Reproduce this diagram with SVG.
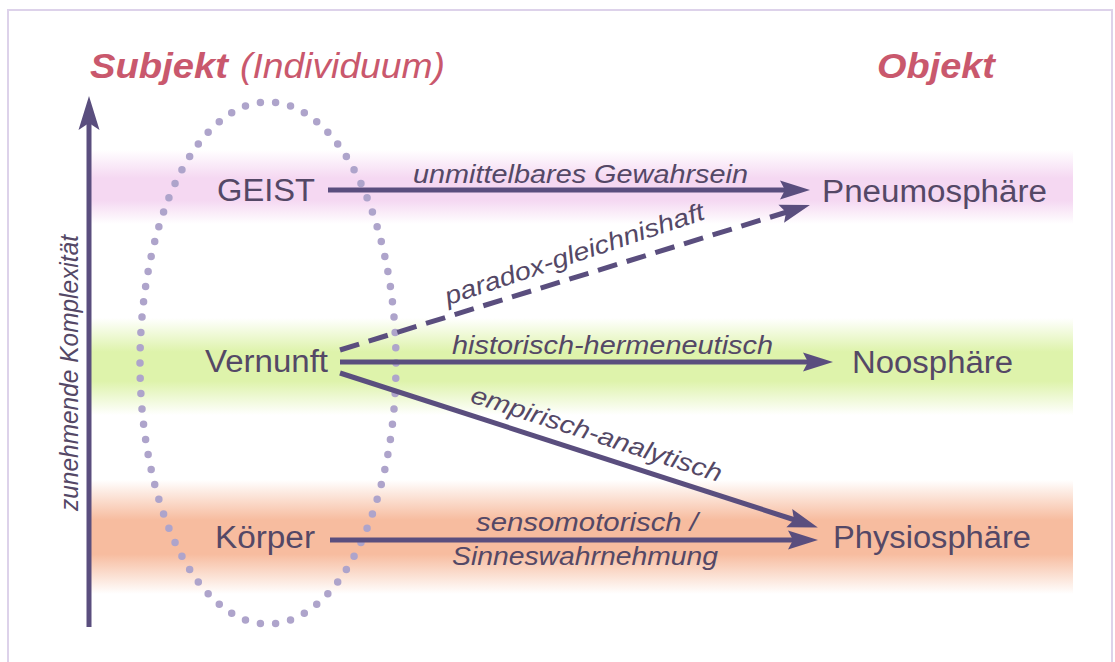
<svg xmlns="http://www.w3.org/2000/svg" width="1115" height="662" viewBox="0 0 1115 662">
<style>
.node{font-family:"Liberation Sans",Arial,sans-serif;font-size:31px;fill:#544866}
.lbl{font-family:"Liberation Sans",Arial,sans-serif;font-size:25px;font-style:italic;fill:#544866}
.title{font-family:"Liberation Sans",Arial,sans-serif;font-size:35px;font-style:italic;fill:#c9586d}
.conn{stroke:#5a4e7e;stroke-width:5;fill:none;marker-end:url(#ah)}
</style>
<defs>
<marker id="ah" markerUnits="userSpaceOnUse" markerWidth="60" markerHeight="40" refX="0" refY="0" orient="auto" overflow="visible">
<path d="M24,0 L-6,-9.5 L-1,0 L-6,9.5 Z" fill="#5a4e7e"/>
</marker>
<marker id="ahv" markerUnits="userSpaceOnUse" markerWidth="60" markerHeight="40" refX="0" refY="0" orient="auto" overflow="visible">
<path d="M26,0 L-8,-10.5 L-1,0 L-8,10.5 Z" fill="#5a4e7e"/>
</marker>
<linearGradient id="gPink" x1="0" y1="0" x2="0" y2="1">
<stop offset="0" stop-color="#f5d8f2" stop-opacity="0"/>
<stop offset="0.38" stop-color="#f5d8f2" stop-opacity="1"/>
<stop offset="0.68" stop-color="#f5d8f2" stop-opacity="1"/>
<stop offset="1" stop-color="#f5d8f2" stop-opacity="0"/>
</linearGradient>
<linearGradient id="gGreen" x1="0" y1="0" x2="0" y2="1">
<stop offset="0" stop-color="#def3ab" stop-opacity="0"/>
<stop offset="0.35" stop-color="#def3ab" stop-opacity="1"/>
<stop offset="0.65" stop-color="#def3ab" stop-opacity="1"/>
<stop offset="1" stop-color="#def3ab" stop-opacity="0"/>
</linearGradient>
<linearGradient id="gOrange" x1="0" y1="0" x2="0" y2="1">
<stop offset="0" stop-color="#f7bc9f" stop-opacity="0"/>
<stop offset="0.35" stop-color="#f7bc9f" stop-opacity="1"/>
<stop offset="0.65" stop-color="#f7bc9f" stop-opacity="1"/>
<stop offset="1" stop-color="#f7bc9f" stop-opacity="0"/>
</linearGradient>
</defs>
<rect x="0" y="0" width="1115" height="662" fill="#ffffff"/>
<rect x="8" y="10" width="1104" height="670" fill="none" stroke="#ddd2ea" stroke-width="2"/>

<g id="bands">
<rect x="90" y="150" width="983" height="74" fill="url(#gPink)"/>
<rect x="90" y="318" width="983" height="97" fill="url(#gGreen)"/>
<rect x="90" y="480" width="983" height="114" fill="url(#gOrange)"/>
</g>

<g id="titles">
<text class="title" x="90" y="78" font-weight="bold" textLength="138" lengthAdjust="spacingAndGlyphs">Subjekt</text>
<text class="title" x="240" y="78" textLength="205" lengthAdjust="spacingAndGlyphs">(Individuum)</text>
<text class="title" x="877" y="78" font-weight="bold" textLength="118" lengthAdjust="spacingAndGlyphs">Objekt</text>
</g>

<g id="axis">
<line x1="89" y1="627" x2="89" y2="122" stroke="#5a4e7e" stroke-width="5" marker-end="url(#ahv)"/>
<text class="lbl" transform="translate(78,373) rotate(-90)" text-anchor="middle" font-size="22" textLength="276" lengthAdjust="spacingAndGlyphs">zunehmende Komplexität</text>
</g>

<g id="subject-ellipse">
<ellipse cx="268" cy="363" rx="128" ry="261" fill="none" stroke="#aea4cb" stroke-width="7.5" stroke-linecap="round" pathLength="82" stroke-dasharray="0 1"/>
</g>

<g id="connectors">
<line class="conn" x1="328" y1="190" x2="786" y2="190"/>
<line class="conn" x1="340" y1="350" x2="787" y2="212" stroke-dasharray="20 10"/>
<line class="conn" x1="340" y1="362" x2="809" y2="362"/>
<line class="conn" x1="340" y1="373" x2="795" y2="520"/>
<line class="conn" x1="330" y1="540" x2="794" y2="540"/>
<text class="lbl" x="413" y="183" textLength="335" lengthAdjust="spacingAndGlyphs">unmittelbares Gewahrsein</text>
<text class="lbl" transform="translate(577,262) rotate(-18.5)" text-anchor="middle" textLength="272" lengthAdjust="spacingAndGlyphs">paradox-gleichnishaft</text>
<text class="lbl" x="452" y="354" textLength="321" lengthAdjust="spacingAndGlyphs">historisch-hermeneutisch</text>
<text class="lbl" transform="translate(594,442) rotate(17.8)" text-anchor="middle" textLength="262" lengthAdjust="spacingAndGlyphs">empirisch-analytisch</text>
<text class="lbl" x="476" y="531" textLength="222" lengthAdjust="spacingAndGlyphs">sensomotorisch /</text>
<text class="lbl" x="452" y="565" textLength="266" lengthAdjust="spacingAndGlyphs">Sinneswahrnehmung</text>
</g>

<g id="node-geist"><text class="node" x="217" y="201" textLength="98" lengthAdjust="spacingAndGlyphs">GEIST</text></g>
<g id="node-vernunft"><text class="node" x="205" y="372" textLength="123" lengthAdjust="spacingAndGlyphs">Vernunft</text></g>
<g id="node-koerper"><text class="node" x="215" y="548" textLength="100" lengthAdjust="spacingAndGlyphs">Körper</text></g>
<g id="node-pneumosphaere"><text class="node" x="822" y="202" textLength="225" lengthAdjust="spacingAndGlyphs">Pneumosphäre</text></g>
<g id="node-noosphaere"><text class="node" x="852" y="373" textLength="161" lengthAdjust="spacingAndGlyphs">Noosphäre</text></g>
<g id="node-physiosphaere"><text class="node" x="833" y="548" textLength="198" lengthAdjust="spacingAndGlyphs">Physiosphäre</text></g>
</svg>
